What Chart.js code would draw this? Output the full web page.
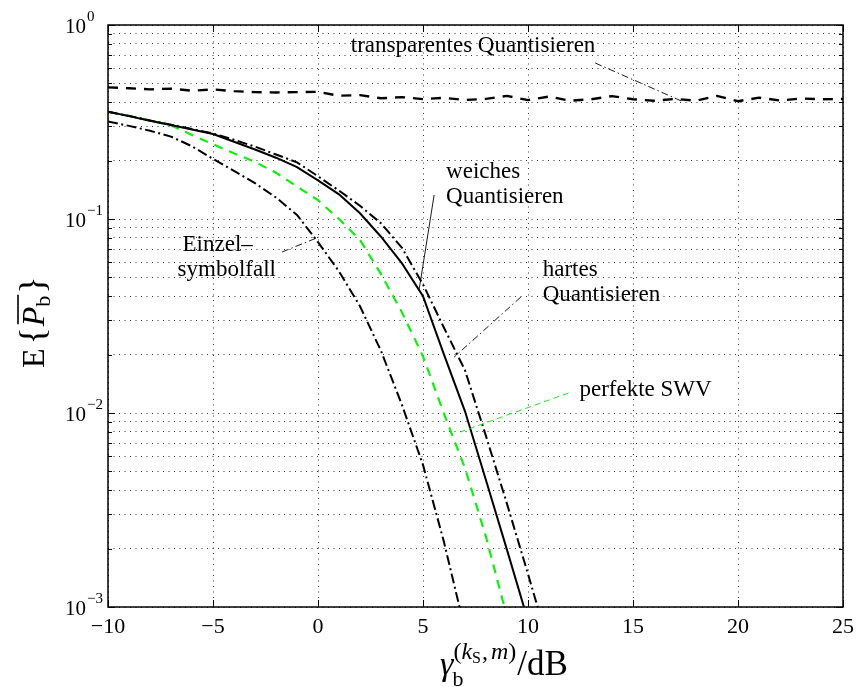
<!DOCTYPE html>
<html>
<head>
<meta charset="utf-8">
<script src="https://cdn.jsdelivr.net/npm/chart.js@4/dist/chart.umd.min.js"></script>
<style>
  html, body { margin: 0; padding: 0; background: #fff; }
  #c { display: block; }
</style>
</head>
<body>
<canvas id="c" width="861" height="687"></canvas>
<script>
// SNR axis (dB) and bit error probabilities for each receiver variant
const snrLong = [-10,-9,-8,-7,-6,-5,-4,-3,-2,-1,0,1,2,3,4,5,6,7,8,9,10,11,12,13,14,15,16,17,18,19,20,21,22,23,24,25];
const snrShort = [-10,-9,-8,-7,-6,-5,-4,-3,-2,-1,0,1,2,3,4,5,6,7,8,9,10,11];

const transparentQ = [0.477,0.472,0.466,0.470,0.458,0.466,0.456,0.451,0.449,0.451,0.452,0.432,0.435,0.419,0.425,0.415,0.421,0.411,0.416,0.431,0.410,0.428,0.407,0.414,0.430,0.414,0.407,0.416,0.407,0.431,0.405,0.422,0.408,0.418,0.414,0.416];
const softQ  = [0.357,0.339,0.321,0.305,0.289,0.274,0.250,0.228,0.207,0.185,0.158,0.134,0.107,0.081,0.059,0.040,0.020,0.0102,0.0045,0.00197,0.00085];
const hardQ  = [0.357,0.340,0.322,0.306,0.291,0.276,0.256,0.236,0.215,0.196,0.166,0.140,0.117,0.095,0.071,0.046,0.0275,0.0166,0.0076,0.0034,0.00148,0.00063];
const perfectSync = [0.357,0.340,0.322,0.304,0.271,0.243,0.218,0.197,0.173,0.147,0.125,0.100,0.078,0.052,0.033,0.0196,0.0099,0.0052,0.0023,0.00089];
const singleSymbol = [0.318,0.302,0.285,0.266,0.237,0.204,0.177,0.153,0.129,0.105,0.076,0.0537,0.0355,0.0209,0.011,0.0054,0.00216,0.00076];

const xTickValues = [-10,-5,0,5,10,15,20,25];
const yDecadeExponents = [-3,-2,-1,0];

const serif = '"Liberation Serif", "Times New Roman", Times, serif';

function pairs(xs, ys) {
  return ys.map((v, i) => ({ x: xs[i], y: v }));
}

// Text callouts with their leader lines, in data coordinates
const callouts = [
  { lines: ['transparentes Quantisieren'], at: [1.56, 0.78], dx2: 0,
    from: [13.2, 0.637], to: [17.3, 0.406], color: '#000', dash: [7, 3, 1.5, 3] },
  { lines: ['weiches', 'Quantisieren'], at: [6.10, 0.175], dx2: 0,
    from: [5.53, 0.133], to: [4.82, 0.0436], color: '#000', dash: [] },
  { lines: ['hartes', 'Quantisieren'], at: [10.70, 0.0546], dx2: 0,
    from: [9.66, 0.0396], to: [6.48, 0.0194], color: '#000', dash: [7, 3, 1.5, 3] },
  { lines: ['perfekte SWV'], at: [12.45, 0.01314], dx2: 0,
    from: [11.93, 0.01268], to: [6.77, 0.00798], color: '#11dd11', dash: [6, 4] },
  { lines: ['Einzel\u2013', 'symbolfall'], at: [-6.45, 0.0734], dx2: -5,
    from: [-1.71, 0.0676], to: [0.04, 0.0807], color: '#000', dash: [7, 3, 1.5, 3] }
];

const decorations = {
  id: 'decorations',
  afterDraw(chart) {
    const ctx = chart.ctx;
    const xs = chart.scales.x, ys = chart.scales.y;
    const a = chart.chartArea;
    ctx.save();

    // axes box
    ctx.strokeStyle = '#000';
    ctx.lineWidth = 1.5;
    ctx.strokeRect(a.left, a.top, a.right - a.left, a.bottom - a.top);

    // inward tick marks
    ctx.lineWidth = 1;
    ctx.beginPath();
    xTickValues.forEach(v => {
      const p = Math.round(xs.getPixelForValue(v)) + 0.5;
      ctx.moveTo(p, a.bottom); ctx.lineTo(p, a.bottom - 7);
      ctx.moveTo(p, a.top); ctx.lineTo(p, a.top + 7);
    });
    ys.ticks.forEach(t => {
      const p = Math.round(ys.getPixelForValue(t.value)) + 0.5;
      const len = t.major ? 7 : 4;
      ctx.moveTo(a.left, p); ctx.lineTo(a.left + len, p);
      ctx.moveTo(a.right, p); ctx.lineTo(a.right - len, p);
    });
    ctx.stroke();

    // y tick labels 10^n
    ctx.fillStyle = '#000';
    ctx.textBaseline = 'alphabetic';
    yDecadeExponents.forEach(e => {
      const p = ys.getPixelForValue(Math.pow(10, e));
      const expTxt = e < 0 ? '\u2212' + Math.abs(e) : String(e);
      ctx.font = '21px ' + serif;
      const wb = ctx.measureText('10').width;
      const baseRight = 86;
      ctx.fillText('10', baseRight - wb, p + 8);
      ctx.font = '15px ' + serif;
      ctx.fillText(expTxt, baseRight + 1, p - 4);
    });

    // x axis title: gamma_b^(k_S,m) / dB
    const x0 = 440;
    const base = 675;
    ctx.font = 'italic 34px ' + serif;
    ctx.fillText('\u03b3', x0, base);
    const wg = ctx.measureText('\u03b3').width;
    ctx.font = '22px ' + serif;
    ctx.fillText('b', x0 + wg - 1, base + 11);
    let sx = x0 + wg;
    const sup = base - 16;
    ctx.font = '24px ' + serif;
    ctx.fillText('(', sx, sup); sx += ctx.measureText('(').width;
    ctx.font = 'italic 24px ' + serif;
    ctx.fillText('k', sx, sup); sx += ctx.measureText('k').width;
    ctx.font = '16px ' + serif;
    ctx.fillText('S', sx, sup + 4); sx += ctx.measureText('S').width + 1;
    ctx.font = '24px ' + serif;
    ctx.fillText(',', sx, sup); sx += ctx.measureText(',').width + 3;
    ctx.font = 'italic 24px ' + serif;
    ctx.fillText('m', sx, sup); sx += ctx.measureText('m').width;
    ctx.font = '24px ' + serif;
    ctx.fillText(')', sx, sup); sx += ctx.measureText(')').width + 1;
    ctx.font = '35px ' + serif;
    ctx.fillText('/dB', sx, base);

    // y axis title: E{ overline(P_b) }
    ctx.save();
    ctx.translate(44, 308);
    ctx.rotate(-Math.PI / 2);
    let tx = -60;
    ctx.font = '32px ' + serif;
    ctx.fillText('E', tx, 0); tx += ctx.measureText('E').width + 4;
    ctx.font = '36px ' + serif;
    ctx.fillText('{', tx, 0); tx += ctx.measureText('{').width + 1;
    const pStart = tx;
    ctx.font = 'italic 32px ' + serif;
    ctx.fillText('P', tx, 0); tx += ctx.measureText('P').width;
    ctx.font = '22px ' + serif;
    ctx.fillText('b', tx, 6); tx += ctx.measureText('b').width + 1;
    ctx.lineWidth = 1.6;
    ctx.beginPath();
    ctx.moveTo(pStart + 2, -26); ctx.lineTo(tx, -26);
    ctx.stroke();
    ctx.font = '36px ' + serif;
    ctx.fillText('}', tx + 1, 0);
    ctx.restore();

    // callouts
    callouts.forEach(c => {
      const px = xs.getPixelForValue(c.at[0]);
      const py = ys.getPixelForValue(c.at[1]);
      ctx.font = '23px ' + serif;
      ctx.fillStyle = '#000';
      ctx.textBaseline = 'middle';
      c.lines.forEach((ln, i) => ctx.fillText(ln, px + (i ? c.dx2 : 0), py + i * 25));
      ctx.strokeStyle = c.color;
      ctx.lineWidth = 0.9;
      ctx.setLineDash(c.dash);
      ctx.beginPath();
      ctx.moveTo(xs.getPixelForValue(c.from[0]), ys.getPixelForValue(c.from[1]));
      ctx.lineTo(xs.getPixelForValue(c.to[0]), ys.getPixelForValue(c.to[1]));
      ctx.stroke();
      ctx.setLineDash([]);
    });
    ctx.restore();
  }
};

const dashDot = [10, 3.5, 2, 3.5];

new Chart(document.getElementById('c'), {
  type: 'line',
  data: {
    datasets: [
      { label: 'transparentes Quantisieren', data: pairs(snrLong, transparentQ), borderColor: '#000', borderWidth: 2.4, borderDash: [10, 8] },
      { label: 'hartes Quantisieren', data: pairs(snrShort, hardQ), borderColor: '#000', borderWidth: 2, borderDash: dashDot },
      { label: 'weiches Quantisieren', data: pairs(snrShort, softQ), borderColor: '#000', borderWidth: 2 },
      { label: 'perfekte SWV', data: pairs(snrShort, perfectSync), borderColor: '#11ee11', borderWidth: 2.2, borderDash: [9, 7] },
      { label: 'Einzelsymbolfall', data: pairs(snrShort, singleSymbol), borderColor: '#000', borderWidth: 2, borderDash: dashDot }
    ]
  },
  options: {
    responsive: false,
    animation: false,
    layout: { padding: { top: 25, right: 14, left: 0, bottom: 0 } },
    plugins: { legend: { display: false }, tooltip: { enabled: false } },
    elements: { point: { radius: 0 }, line: { tension: 0, fill: false } },
    scales: {
      x: {
        type: 'linear', min: -10, max: 25,
        afterBuildTicks: s => { s.ticks = xTickValues.map(v => ({ value: v })); },
        afterFit: s => { s.height = 80; },
        grid: { color: '#333', lineWidth: 1, drawTicks: false },
        border: { display: false, dash: [1, 4.5] },
        ticks: {
          padding: 7, color: '#000', font: { family: serif, size: 22 },
          callback: v => (v < 0 ? '\u2212' + Math.abs(v) : String(v))
        }
      },
      y: {
        type: 'logarithmic', min: 1e-3, max: 1,
        afterBuildTicks: s => {
          const t = [];
          yDecadeExponents.forEach(e => {
            const mMax = e === 0 ? 1 : 9;
            for (let m = 1; m <= mMax; m++) t.push({ value: m * Math.pow(10, e), major: m === 1 });
          });
          s.ticks = t;
        },
        afterFit: s => { s.width = 108; },
        grid: { color: '#333', lineWidth: 1, drawTicks: false },
        border: { display: false, dash: [1, 4.5] },
        ticks: { display: false }
      }
    }
  },
  plugins: [decorations]
});
</script>
</body>
</html>
